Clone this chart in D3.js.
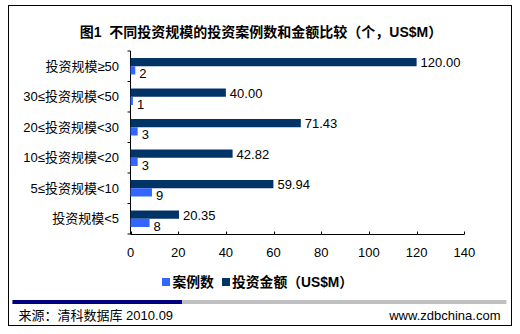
<!DOCTYPE html>
<html><head><meta charset="utf-8">
<script src="https://cdn.jsdelivr.net/npm/d3@7"></script>
<style>html,body{margin:0;padding:0;background:#fff;}svg{display:block;}</style>
</head><body>
<script>
const categories = ["投资规模≥50","30≤投资规模<50","20≤投资规模<30","10≤投资规模<20","5≤投资规模<10","投资规模<5"];
const amountValues = [120.00, 40.00, 71.43, 42.82, 59.94, 20.35];
const countValues = [2, 1, 3, 3, 9, 8];
const xTicks = [0, 20, 40, 60, 80, 100, 120, 140];
const seriesNames = ["案例数", "投资金额（US$M）"];
const titleText = "图1\u00a0\u00a0不同投资规模的投资案例数和金额比较（个，US$M）";
const sourceText = "来源：清科数据库 2010.09";
const siteText = "www.zdbchina.com";

const W = 520, H = 334;
const latin = "'Liberation Sans', Arial, 'Noto Sans CJK SC', sans-serif";
const cjk = "'Liberation Sans', 'Noto Sans CJK SC', sans-serif";
const navy = "#003366", blue = "#3366FF";

const svg = d3.select("body").append("svg").attr("width", W).attr("height", H);
svg.append("rect").attr("width", W).attr("height", H).attr("fill", "#fff");
svg.append("rect").attr("x", 8.5).attr("y", 5.5).attr("width", 503).attr("height", 320)
  .attr("fill", "none").attr("stroke", "#000").attr("stroke-width", 1);

svg.append("text").attr("x", 261).attr("y", 37).attr("text-anchor", "middle")
  .attr("font-family", cjk).attr("font-size", 14).attr("font-weight", "bold").text(titleText);

const x = d3.scaleLinear().domain([0, 140]).range([130.5, 464.3]);
const y = d3.scaleBand().domain(categories).range([51, 234]).paddingInner(0.46).paddingOuter(0.23);
const sub = d3.scaleBand().domain(["amount", "count"]).range([0, y.bandwidth()]);

// y axis
const ya = svg.append("g").attr("transform", "translate(130.5,0)");
ya.append("line").attr("y1", 51).attr("y2", 234).attr("stroke", "#000");
const step = (234 - 51) / categories.length;
d3.range(categories.length + 1).forEach(i => {
  ya.append("line").attr("x1", -3).attr("x2", 0).attr("y1", 51 + i * step).attr("y2", 51 + i * step).attr("stroke", "#000");
});
categories.forEach((c, i) => {
  const cy = 51 + (i + 0.5) * step;
  svg.append("text").attr("x", 119).attr("y", cy + 4.5).attr("text-anchor", "end")
    .attr("font-family", cjk).attr("font-size", 13).attr("fill", "#000").text(c);
});

// x axis
const xa = svg.append("g").attr("transform", "translate(0,234.5)");
xa.append("line").attr("x1", 130.5).attr("x2", 464.3).attr("stroke", "#000");
xTicks.forEach(t => {
  xa.append("line").attr("x1", Math.round(x(t)) + 0.5).attr("x2", Math.round(x(t)) + 0.5).attr("y1", -3).attr("y2", 0).attr("stroke", "#000");
  xa.append("text").attr("x", x(t)).attr("y", 22.5).attr("text-anchor", "middle")
    .attr("font-family", latin).attr("font-size", 13).attr("fill", "#000").text(t);
});

// bars
const g = svg.append("g");
categories.forEach((c, i) => {
  const y0 = y(c);
  g.append("rect").attr("x", x(0)).attr("y", y0 + sub("amount"))
    .attr("width", x(amountValues[i]) - x(0)).attr("height", sub.bandwidth()).attr("fill", navy);
  g.append("rect").attr("x", x(0)).attr("y", y0 + sub("count"))
    .attr("width", x(countValues[i]) - x(0)).attr("height", sub.bandwidth()).attr("fill", blue);
  g.append("text").attr("x", x(amountValues[i]) + 4).attr("y", y0 + sub("amount") + sub.bandwidth() / 2 + 5)
    .attr("font-family", latin).attr("font-size", 13).attr("fill", "#000").text(amountValues[i].toFixed(2));
  g.append("text").attr("x", x(countValues[i]) + 4).attr("y", y0 + sub("count") + sub.bandwidth() / 2 + 8)
    .attr("font-family", latin).attr("font-size", 13).attr("fill", "#000").text(countValues[i]);
});

// legend
const lg = svg.append("g");
lg.append("rect").attr("x", 162).attr("y", 278).attr("width", 8).attr("height", 8).attr("fill", blue);
lg.append("text").attr("x", 172.5).attr("y", 287).attr("font-family", cjk).attr("font-size", 13.8)
  .attr("font-weight", "bold").text(seriesNames[0]);
lg.append("rect").attr("x", 222).attr("y", 278).attr("width", 8).attr("height", 8).attr("fill", navy);
lg.append("text").attr("x", 232).attr("y", 287).attr("font-family", cjk).attr("font-size", 13.8)
  .attr("font-weight", "bold").text(seriesNames[1]);

// footer stripe
svg.append("rect").attr("x", 12.5).attr("y", 300).attr("width", 494).attr("height", 4).attr("fill", "#C0C0C0");
svg.append("rect").attr("x", 12.5).attr("y", 300).attr("width", 169.5).attr("height", 4).attr("fill", "#000080");
svg.append("text").attr("x", 18.5).attr("y", 319.5).attr("font-family", cjk).attr("font-size", 13).text(sourceText);
svg.append("text").attr("x", 500.5).attr("y", 319.5).attr("text-anchor", "end").attr("font-family", latin).attr("font-size", 13).text(siteText);
</script>
</body></html>
